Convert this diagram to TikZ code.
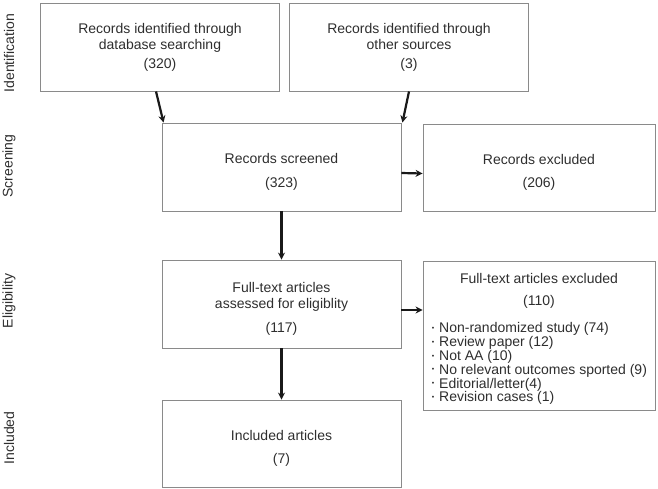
\documentclass[tikz,border=0pt]{standalone}
\usepackage{fontspec}
\setmainfont{Liberation Sans}
\usetikzlibrary{positioning,arrows.meta}
\definecolor{boxline}{HTML}{8A8A8A}
\definecolor{txt}{HTML}{2E2E2E}
\newcommand{\listbullet}{\raisebox{2.5pt}{\fontsize{7}{7}\selectfont\textbullet}\hspace{5pt}}
\newcommand{\topgap}{\rule{0pt}{19.5pt}}
\tikzset{
  box/.style={draw=boxline,line width=0.9pt,minimum width=239,minimum height=88,inner sep=0,align=center,text=txt},
  arr/.style={line width=2.2pt,draw=black!90,-{Stealth[length=7pt,width=7pt]}},
  stage/.style={rotate=90,text=txt,inner sep=0},
}
\begin{document}
\begin{tikzpicture}[x=1pt,y=-1pt,font=\fontsize{14}{16.5}\selectfont]
  \useasboundingbox (0,0) rectangle (658,488);
  % stages on the left-hand side
  \node[stage] (sIdent)    at (9,53)  {Identification};
  \node[stage] (sScreen)   at (9,166) {Screening};
  \node[stage] (sElig)     at (9,301) {Eligibility};
  \node[stage] (sIncl)     at (9,438) {Included};
  % boxes of the flow
  \node[box] (dbsearch)  at (160,47)    {Records identified through\\database searching\\[2pt](320)};
  \node[box] (othersrc)  at (409,47)    {Records identified through\\other sources\\[2pt](3)};
  \node[box] (screened)  at (281.5,167) {\topgap Records screened\\[7pt](323)};
  \node[box,minimum width=232,minimum height=87] (recexcl) at (539,167.5) {\topgap Records excluded\\[7pt](206)};
  \node[box] (fulltext)  at (281.5,304) {\topgap Full-text articles\\assessed for eligiblity\\[7pt](117)};
  \node[box,minimum width=232,minimum height=149] (ftexcl) at (539,335.5) {};
  \node[text=txt,align=center,inner sep=0,below=12.5pt of ftexcl.north] (ftexcltitle)
       {Full-text articles excluded\\[6pt](110)};
  \node[text=txt,align=left,inner sep=0,anchor=north west,font=\fontsize{14}{13.8}\selectfont]
       (ftexcllist) at ([xshift=9pt,yshift=-62pt]ftexcl.north west)
       {\listbullet Non-randomized study (74)\\
        \listbullet Review paper (12)\\
        \listbullet Not AA (10)\\
        \listbullet No relevant outcomes sported (9)\\
        \listbullet Editorial/letter(4)\\
        \listbullet Revision cases (1)};
  \node[box,minimum height=87] (included) at (281.5,443.5) {\topgap Included articles\\[6pt](7)};
  % connectors
  \draw[arr] ([xshift=-4pt]dbsearch.south) -- ([xshift=2pt]screened.north west);
  \draw[arr] (othersrc.south) -- ([xshift=1pt]screened.north east);
  \draw[arr] ([yshift=-6pt]screened.east) -- ([yshift=-6pt]recexcl.west);
  \draw[arr] (screened.south) -- (fulltext.north);
  \coordinate (ftout) at ([yshift=-6pt]fulltext.east);
  \draw[arr] (ftout) -- (ftout -| ftexcl.west);
  \draw[arr] (fulltext.south) -- (included.north);
\end{tikzpicture}
\end{document}
